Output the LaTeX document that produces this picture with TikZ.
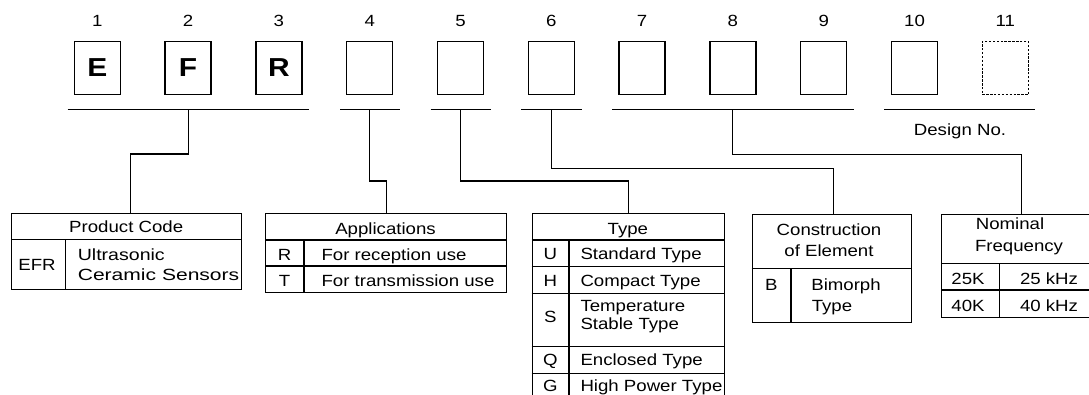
\documentclass[tikz,border=0pt]{standalone}
\usepackage{graphicx}
\usepackage{fontspec}
\setmainfont[FakeStretch=1.15]{Liberation Sans}
\begin{document}
\begin{tikzpicture}[x=1pt,y=-1pt,line width=1.05pt,
  every node/.style={font=\fontsize{16.2}{19}\selectfont,inner sep=0pt,text=black},
  digitbox/.style={draw,line width=1.3pt,minimum width=46pt,minimum height=53.4pt,
    font=\fontsize{26}{28}\selectfont\bfseries,text=black},
  tframe/.style={draw,anchor=north west,inner sep=0pt},
  lbl/.style={anchor=base},
  lblw/.style={anchor=base west}]
\useasboundingbox (0,0) rectangle (1089,394);
\clip (0,0) rectangle (1089,394);
% code boxes and numbers
\foreach \i/\t in {1/E,2/F,3/R,4/{},5/{},6/{},7/{},8/{},9/{},10/{}}{
  \node[digitbox] (b\i) at ({97.3+(\i-1)*90.8},68) {\t};
  \node[lbl] (n\i) at ({97.3+(\i-1)*90.8},26) {\i};
}
\node[digitbox,dash pattern=on 2.4pt off 1.5pt,line width=1.1pt] (b11) at ({97.3+10*90.8},68) {};
\node[lbl] (n11) at ({97.3+10*90.8},26) {11};
% underlines
\draw (67.7,109.3) -- (309.3,109.3);
\draw (340,109.3) -- (400,109.3);
\draw (430.7,109.3) -- (490.7,109.3);
\draw (521,109.3) -- (581.7,109.3);
\draw (612.3,109.3) -- (854,109.3);
\draw (884.3,109.3) -- (1035,109.3);
\node[lbl] (dn) at (960,135) {Design No.};
\coordinate (s1) at (b2 |- 0,109.3);
\coordinate (s4) at (b4 |- 0,109.3);
\coordinate (s5) at (b5 |- 0,109.3);
\coordinate (s6) at (b6 |- 0,109.3);
\coordinate (s8) at (b8 |- 0,109.3);
% tables (outer frames)
\node[tframe,minimum width=230.3pt,minimum height=75.4pt] (t1) at (11,213.3) {};
\node[tframe,minimum width=241pt,minimum height=78.4pt] (t2) at (265,213.3) {};
\node[tframe,minimum width=192.3pt,minimum height=187pt] (t3) at (531.7,213.3) {};
\node[tframe,minimum width=159pt,minimum height=107.4pt] (t4) at (751.7,214.3) {};
\node[tframe,minimum width=159pt,minimum height=102.7pt] (t5) at (941,214) {};
% connectors
\draw (s1) -- (s1 |- 0,154) -| ([xshift=3.85pt]t1.north);
\draw (s4) -- (s4 |- 0,181) -| (t2.north);
\draw (s5) -- (s5 |- 0,181) -| (t3.north);
\draw (s6) -- (s6 |- 0,168.3) -| ([xshift=2pt]t4.north);
\draw (s8) -- (s8 |- 0,154.3) -| (t5.north);
% table 1
\draw (11,239.3) -- (241.3,239.3) (65.7,239.3) -- (65.7,288.7);
\node[lbl] (t1h) at (126.2,232.7) {Product Code};
\node[lbl] (t1a) at (37,270) {EFR};
\node[lblw] (t1b) at (77.3,260) {\scalebox{1.05}[1]{Ultrasonic}};
\node[lblw] (t1c) at (77.3,280) {\scalebox{1.13}[1]{Ceramic Sensors}};
% table 2
\draw (265,240) -- (506,240) (265,266) -- (506,266) (304,240) -- (304,291.7);
\node[lbl] (t2h) at (385.5,234.5) {Applications};
\node[lbl] (t2a) at (284.5,260.5) {R};
\node[lblw] (t2b) at (321,260.5) {For reception use};
\node[lbl] (t2c) at (284.5,286.3) {T};
\node[lblw] (t2d) at (321,286.3) {For transmission use};
% table 3
\draw (531.7,240) -- (724,240) (531.7,266.7) -- (724,266.7) (531.7,293.3) -- (724,293.3)
      (531.7,346.7) -- (724,346.7) (531.7,373.3) -- (724,373.3) (569,240) -- (569,400.3);
\node[lbl] (t3h) at (627.9,234.5) {Type};
\node[lbl] (t3a) at (550.3,259.5) {U};
\node[lblw] (t3b) at (580,259.5) {Standard Type};
\node[lbl] (t3c) at (550.3,286.2) {H};
\node[lblw] (t3d) at (580,286.2) {Compact Type};
\node[lbl] (t3e) at (550.3,322) {S};
\node[lblw] (t3f) at (580,311.5) {Temperature};
\node[lblw] (t3g) at (580,329.8) {Stable Type};
\node[lbl] (t3i) at (550.3,365.5) {Q};
\node[lblw] (t3j) at (580,365.5) {Enclosed Type};
\node[lbl] (t3k) at (550.3,391.3) {G};
\node[lblw] (t3l) at (580,391.3) {High Power Type};
% table 4
\draw (751.7,268.7) -- (910.7,268.7) (791,268.7) -- (791,321.7);
\node[lbl] (t4h) at (829,235) {Construction};
\node[lbl] (t4i) at (829,256.7) {of Element};
\node[lbl] (t4a) at (771.3,290) {B};
\node[lbl] (t4b) at (846,290) {Bimorph};
\node[lbl] (t4c) at (832,311.7) {Type};
% table 5
\draw (941,263.3) -- (1100,263.3) (941,290) -- (1100,290) (999.3,263.3) -- (999.3,316.7);
\node[lbl] (t5h) at (1010,229.5) {Nominal};
\node[lbl] (t5i) at (1019,251.5) {Frequency};
\node[lbl] (t5a) at (968,284) {25K};
\node[lbl] (t5b) at (1049,284) {25 kHz};
\node[lbl] (t5c) at (968,311) {40K};
\node[lbl] (t5d) at (1049,311) {40 kHz};
\end{tikzpicture}
\end{document}
